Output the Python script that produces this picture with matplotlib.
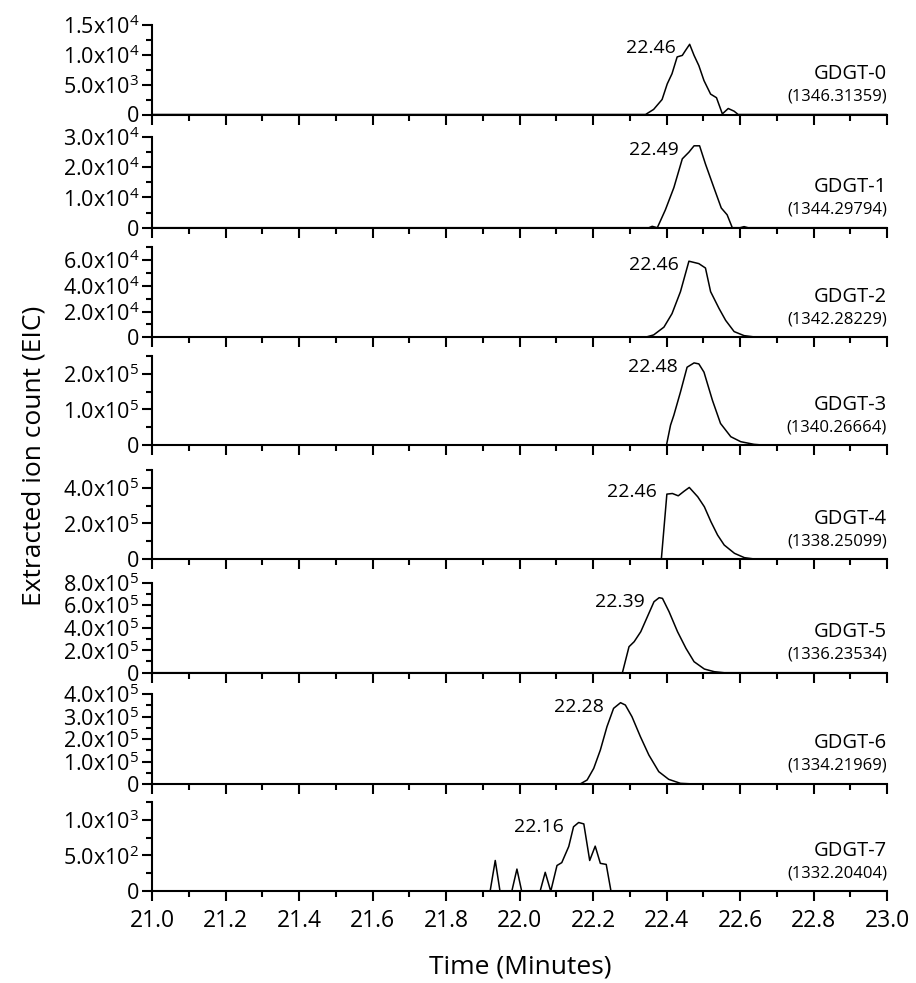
import numpy as np
import matplotlib
matplotlib.use("Agg")
import matplotlib.pyplot as plt
from matplotlib.ticker import MultipleLocator, FuncFormatter

plt.rcParams['font.family'] = ['Open Sans', 'DejaVu Sans']
plt.rcParams['mathtext.default'] = 'regular'

# ----------------------------
# Data
# ----------------------------

names = ["GDGT-0", "GDGT-1", "GDGT-2", "GDGT-3", "GDGT-4", "GDGT-5", "GDGT-6", "GDGT-7"]
masses = ["(1346.31359)", "(1344.29794)", "(1342.28229)", "(1340.26664)",
          "(1338.25099)", "(1336.23534)", "(1334.21969)", "(1332.20404)"]
peak_labels = ["22.46", "22.49", "22.46", "22.48", "22.46", "22.39", "22.28", "22.16"]

t0 = [21.0, 22.343, 22.365, 22.388, 22.402, 22.415, 22.429, 22.443, 22.452, 22.463,
      22.475, 22.488, 22.502, 22.520, 22.536, 22.552, 22.568, 22.584, 22.595, 23.0]
c0 = [0, 0, 850, 2500, 5100, 6800, 9600, 9850, 10700, 11700,
      9850, 8150, 5650, 3400, 2800, 100, 1000, 550, 0, 0]

t1 = [21.0, 22.352, 22.361, 22.375, 22.397, 22.420, 22.443, 22.461, 22.475, 22.490,
      22.506, 22.529, 22.549, 22.565, 22.579, 22.600, 22.611, 22.622, 23.0]
c1 = [0, 0, 450, 0, 5900, 13200, 22700, 24900, 27000, 27000,
      21000, 13200, 6500, 4250, 0, 0, 350, 0, 0]

t2 = [21.0, 22.342, 22.365, 22.393, 22.415, 22.438, 22.461, 22.488, 22.506, 22.520,
      22.543, 22.561, 22.584, 22.611, 22.647, 23.0]
c2 = [0, 0, 1850, 7900, 18400, 35500, 59200, 57300, 53900, 35500,
      22400, 13150, 4450, 1300, 0, 0]

t3 = [21.0, 22.400, 22.411, 22.420, 22.438, 22.456, 22.475, 22.488, 22.502, 22.525,
      22.547, 22.575, 22.602, 22.638, 22.660, 23.0]
c3 = [0, 0, 55800, 83700, 148800, 218500, 230600, 227800, 204600, 125500,
      60500, 23250, 9300, 1900, 0, 0]

t4 = [21.0, 22.386, 22.401, 22.416, 22.432, 22.448, 22.462, 22.485, 22.503, 22.521,
      22.539, 22.557, 22.585, 22.612, 22.639, 23.0]
c4 = [0, 0, 364500, 368000, 355000, 381000, 402000, 349500, 293500, 209000,
      134500, 78500, 31800, 7500, 0, 0]

t5 = [21.0, 22.280, 22.298, 22.312, 22.330, 22.348, 22.366, 22.380, 22.389, 22.407,
      22.430, 22.453, 22.475, 22.503, 22.530, 22.557, 23.0]
c5 = [0, 0, 231000, 275500, 364500, 497800, 631000, 666700, 660800, 542000,
      364500, 216300, 97800, 32600, 8900, 0, 0]

t6 = [21.0, 22.165, 22.184, 22.202, 22.220, 22.238, 22.256, 22.275, 22.288, 22.306,
      22.329, 22.352, 22.379, 22.406, 22.438, 22.475, 23.0]
c6 = [0, 0, 17800, 69600, 151000, 254700, 336200, 361400, 351000, 299200,
      210300, 128800, 54800, 20700, 3000, 0, 0]

t7 = [21.0, 21.920, 21.934, 21.947, 21.979, 21.993, 22.006, 22.056, 22.070, 22.085,
      22.102, 22.115, 22.134, 22.147, 22.161, 22.175, 22.191, 22.206, 22.220, 22.236,
      22.249, 23.0]
c7 = [0, 0, 430, 0, 0, 310, 0, 0, 265, 0,
      360, 400, 625, 900, 960, 940, 430, 630, 390, 375,
      0, 0]

times = [t0, t1, t2, t3, t4, t5, t6, t7]
counts = [c0, c1, c2, c3, c4, c5, c6, c7]

# y-axis ranges / ticks per panel
y_max = [1.5e4, 3.0e4, 7.0e4, 2.5e5, 5.0e5, 8.0e5, 4.0e5, 1.25e3]
y_major = [5e3, 1e4, 2e4, 1e5, 2e5, 2e5, 1e5, 5e2]
y_minor = [2.5e3, 5e3, 1e4, 5e4, 1e5, 1e5, 5e4, 2.5e2]

# ----------------------------
# Layout (pixel positions of each panel)
# ----------------------------

W, H = 916, 983
left_px, right_px = 152, 887
zero_px = [114.5, 227.7, 337.3, 445, 559, 672.7, 784, 891.3]
top_px = [24.5, 136.7, 247.3, 356, 470, 582.7, 694, 801.7]


def sci_label(v, pos):
    if v == 0:
        return "0"
    exp = int(np.floor(np.log10(abs(v)) + 1e-9))
    mant = v / 10 ** exp
    return "%.1fx10$^{%d}$" % (mant, exp)


fig = plt.figure(figsize=(W / 100, H / 100), dpi=100)

for i in range(8):
    ax = fig.add_axes([left_px / W, 1 - zero_px[i] / H,
                       (right_px - left_px) / W, (zero_px[i] - top_px[i]) / H])

    ax.plot(times[i], counts[i], color="black", lw=1.1)

    ax.set_xlim(21.0, 23.0)
    ax.set_ylim(0, y_max[i])

    for side in ["top", "right"]:
        ax.spines[side].set_visible(False)
    for side in ["left", "bottom"]:
        ax.spines[side].set_linewidth(1.5)

    ax.xaxis.set_major_locator(MultipleLocator(0.2))
    ax.xaxis.set_minor_locator(MultipleLocator(0.1))
    ax.yaxis.set_major_locator(MultipleLocator(y_major[i]))
    ax.yaxis.set_minor_locator(MultipleLocator(y_minor[i]))
    ax.yaxis.set_major_formatter(FuncFormatter(sci_label))
    ax.xaxis.set_major_formatter(FuncFormatter(lambda v, p: "%.1f" % v))

    ax.tick_params(which="major", direction="out", length=7, width=1.5, pad=2)
    ax.tick_params(which="minor", direction="out", length=4, width=1.5)
    ax.tick_params(axis="y", which="major", labelsize=15.5)
    ax.tick_params(axis="x", which="major", pad=6, labelsize=16.5)

    if i < 7:
        ax.tick_params(axis="x", labelbottom=False)

    # peak retention time label, next to the left shoulder of the peak top
    c = np.array(counts[i], dtype=float)
    k = int(np.argmax(c >= 0.9 * c.max()))
    ax.annotate(peak_labels[i], (times[i][k], c.max()), xytext=(-7, -3),
                textcoords="offset points", ha="right", va="center", fontsize=14)

    ax.text(1.0, 0.45, names[i], transform=ax.transAxes, ha="right", va="center",
            fontsize=14.5)
    ax.text(1.0, 0.20, masses[i], transform=ax.transAxes, ha="right", va="center",
            fontsize=12)

fig.text(34 / W, 1 - 456 / H, "Extracted ion count (EIC)", rotation=90,
         ha="center", va="center", fontsize=19)
fig.text(520 / W, 1 - 967 / H, "Time (Minutes)", ha="center", va="center",
         fontsize=19)

fig.savefig("out.png", dpi=100)
